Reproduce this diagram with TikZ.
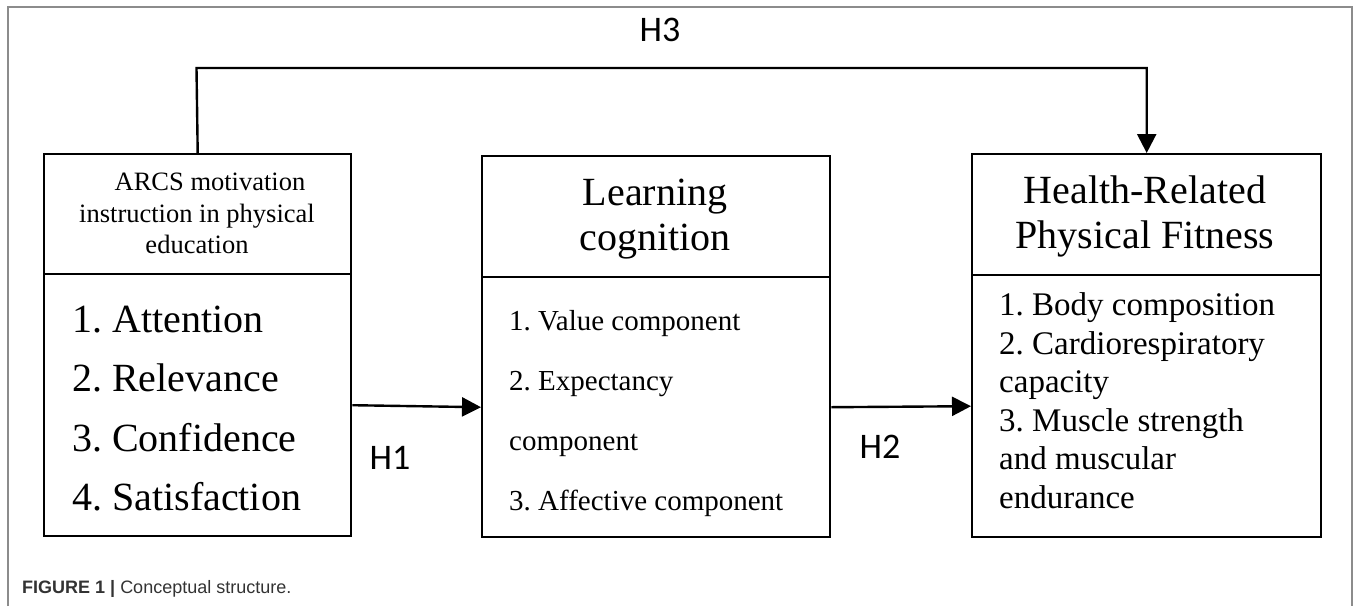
\documentclass[tikz,border=0pt]{standalone}
\usepackage{fontspec}
\setmainfont{Liberation Serif}
\newfontfamily\hfont{Carlito}
\newfontfamily\capfont{Liberation Sans}
\usetikzlibrary{arrows.meta}
\definecolor{capgray}{HTML}{333333}
\definecolor{framegray}{HTML}{8C8C8C}
\newcommand\fsz[1]{\fontsize{#1}{#1}\selectfont}
\frenchspacing
\begin{document}
\begin{tikzpicture}[x=1pt,y=-1pt,
  box/.style={draw, line width=2.4pt, rectangle, inner sep=0pt, anchor=north west},
  arr/.style={line width=2.4pt, -{Triangle[length=19pt,width=19pt]}},
  lft/.style={inner sep=0pt, anchor=base west},
  ctr/.style={inner sep=0pt, anchor=base},
  hyp/.style={font=\hfont\fsz{36}, inner sep=0pt}]
\useasboundingbox (0,0) rectangle (1357,606);
\draw[framegray, line width=1.5pt] (8,606) -- (8,7) -- (1352,7) -- (1352,606);

% boxes
\node[box, minimum width=307pt, minimum height=120pt] (lt) at (43,153) {};
\node[box, minimum width=307pt, minimum height=262pt] (lb) at (43,273) {};
\node[box, minimum width=348pt, minimum height=121pt] (mt) at (481,155) {};
\node[box, minimum width=348pt, minimum height=260pt] (mb) at (481,276) {};
\node[box, minimum width=349pt, minimum height=121pt] (rt) at (971,153) {};
\node[box, minimum width=349pt, minimum height=262pt] (rb) at (971,274) {};

% left texts
\begin{scope}[font=\fsz{26.5}]
\node[ctr] (lt1) at (210,190) {ARCS motivation};
\node[ctr] (lt2) at (197,222) {instruction in physical};
\node[ctr] (lt3) at (197,253) {education};
\end{scope}
\begin{scope}[font=\fsz{40}]
\node[lft] (lb1) at (72,332) {1. Attention};
\node[lft] (lb2) at (72,391) {2. Relevance};
\node[lft] (lb3) at (72,451) {3. Confidence};
\node[lft] (lb4) at (72,510) {4. Satisfaction};
\end{scope}

% middle texts
\begin{scope}[font=\fsz{40}]
\node[ctr] (mt1) at (655,205) {Learning};
\node[ctr] (mt2) at (655,250) {cognition};
\end{scope}
\begin{scope}[font=\fsz{29}]
\node[lft] (mb1) at (509,330) {1. Value component};
\node[lft] (mb2) at (509,390) {2. Expectancy};
\node[lft] (mb3) at (509,450) {component};
\node[lft] (mb4) at (509,510) {3. Affective component};
\end{scope}

% right texts
\begin{scope}[font=\fsz{40}]
\node[ctr] (rt1) at (1145,203) {Health-Related};
\node[ctr] (rt2) at (1145,248) {Physical Fitness};
\end{scope}
\begin{scope}[font=\fsz{33}]
\node[lft] (rb1) at (999,315) {1. Body composition};
\node[lft] (rb2) at (999,354) {2. Cardiorespiratory};
\node[lft] (rb3) at (999,392) {capacity};
\node[lft] (rb4) at (999,431) {3. Muscle strength};
\node[lft] (rb5) at (999,469) {and muscular};
\node[lft] (rb6) at (999,508) {endurance};
\end{scope}

% connectors
\coordinate (h3c) at (196.5,68);
\draw[arr] (lb.east) -- (mb.west);
\draw[arr] (mb.east) -- (rb.west);
\draw[arr] (lt.north) -- (h3c) -| (rt.north);

% hypothesis labels
\node[hyp] (h1) at (390,458) {H1};
\node[hyp] (h2) at (880,447) {H2};
\node[hyp] (h3) at (660,30) {H3};

% caption
\node[lft, text=capgray, font=\capfont\fsz{18}] (cap) at (22,593)
  {\textbf{FIGURE 1} \textbf{|} Conceptual structure.};
\end{tikzpicture}
\end{document}
